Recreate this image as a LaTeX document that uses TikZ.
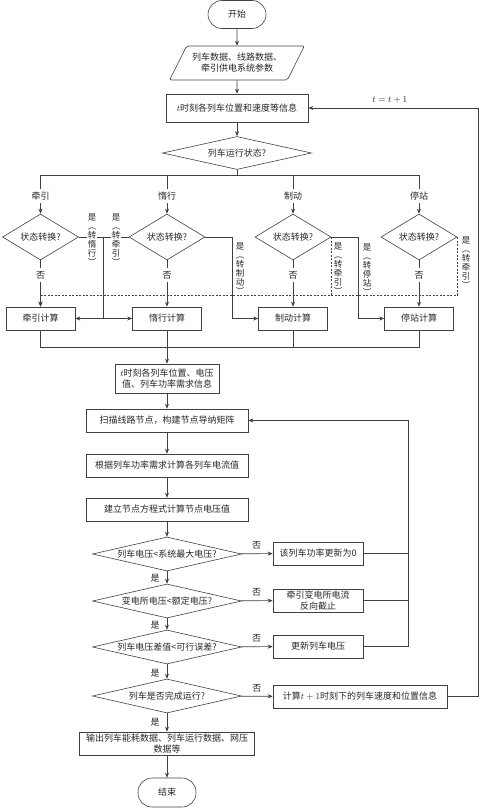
\documentclass[tikz,border=0pt]{standalone}
\usepackage{fontspec}
\newfontfamily\cjk{Noto Sans CJK SC}
\usetikzlibrary{shapes.geometric, arrows.meta, positioning, calc}

\begin{document}
\begin{tikzpicture}[x=1pt, y=-1pt]
\tikzset{
  base/.style={draw=black!75,line width=0.6pt,text=black!85,font=\cjk\fontsize{9}{11}\selectfont,align=center,inner sep=0pt},
  term/.style={base,rectangle,rounded corners=14pt,minimum width=58pt,minimum height=28pt},
  io/.style={base,trapezium,trapezium left angle=52,trapezium right angle=128,trapezium stretches=true,rounded corners=2pt,minimum width=135pt,minimum height=34pt},
  proc/.style={base,rectangle,minimum height=23pt},
  cond/.style={base,diamond,aspect=4.4,minimum width=149pt,minimum height=34pt},
  sw/.style={base,diamond,aspect=1.6,minimum width=76pt,minimum height=46pt},
  mode/.style={proc,minimum width=69pt},
  ar/.style={-{Stealth[length=5pt,width=4pt]},line width=0.6pt,draw=black!75},
  ln/.style={line width=0.6pt,draw=black!75},
  dots/.style={dash pattern=on 2pt off 1.5pt},
  lab/.style={font=\cjk\fontsize{9}{11}\selectfont,text=black!85,inner sep=1pt,fill=white},
  vlab/.style={font=\cjk\fontsize{8.5}{9}\selectfont,text=black!85,align=center,inner sep=0.5pt}
}
\useasboundingbox (0,0) rectangle (500,808);
% ---- start and input
\node[term] (start) at (237,14.5) {开始};
\node[io] (input) at (237,63) {列车数据、线路数据、\\牵引供电系统参数};
\node[proc,minimum width=142pt,minimum height=28pt] (info) at (237,108) {$t$时刻各列车位置和速度等信息};
\node[cond,minimum height=33pt] (state) at (237,153) {列车运行状态?};
% ---- four running states
\node[lab,inner sep=3pt] (lq) at (40.5,196) {牵引};
\node[lab,inner sep=3pt] (ld) at (167,196) {惰行};
\node[lab,inner sep=3pt] (lz) at (293,196) {制动};
\node[lab,inner sep=3pt] (lt) at (419,196) {停站};
\node[sw] (swq) at (40.5,237) {状态转换?};
\node[sw] (swd) at (167,237) {状态转换?};
\node[sw] (swz) at (293,237) {状态转换?};
\node[sw] (swt) at (419,237) {状态转换?};
\node[lab,inner sep=3pt] (nq) at (40.5,275) {否};
\node[lab,inner sep=3pt] (nd) at (167,275) {否};
\node[lab,inner sep=3pt] (nz) at (293,275) {否};
\node[lab,inner sep=3pt] (nt) at (419,275) {否};
\node[mode] (cq) at (40.5,318.5) {牵引计算};
\node[mode] (cd) at (167,318.5) {惰行计算};
\node[mode] (cz) at (293,318.5) {制动计算};
\node[mode] (ct) at (419,318.5) {停站计算};
% ---- network solution
\node[proc,minimum width=104pt,minimum height=29pt] (volt) at (167,378.5) {$t$时刻各列车位置、电压\\值、列车功率需求信息};
\node[proc,minimum width=162pt] (scan) at (167,420.5) {扫描线路节点，构建节点导纳矩阵};
\node[proc,minimum width=162pt] (curr) at (167,465.5) {根据列车功率需求计算各列车电流值};
\node[proc,minimum width=162pt] (nodev) at (167,509.5) {建立节点方程式计算节点电压值};
\node[cond] (chkmax) at (167,554) {列车电压<系统最大电压?};
\node[cond] (chkrate) at (167,601) {变电所电压<额定电压?};
\node[cond] (chkerr) at (167,647) {列车电压差值<可行误差?};
\node[cond] (done) at (167,696) {列车是否完成运行?};
\node[proc,minimum width=90pt] (zero) at (318,553.5) {该列车功率更新为0};
\node[proc,minimum width=90pt] (cut) at (318,600.5) {牵引变电所电流\\反向截止};
\node[proc,minimum width=90pt] (upd) at (318,646.5) {更新列车电压};
\node[proc,minimum width=174pt] (next) at (360,696.5) {计算$t+1$时刻下的列车速度和位置信息};
\node[proc,minimum width=175pt] (output) at (167,743.5) {输出列车能耗数据、列车运行数据、网压\\数据等};
\node[term,minimum height=29pt] (stop) at (167,792.5) {结束};
% ---- arrows, top part
\draw[ar] (start) -- (input);
\draw[ar] (input) -- (info);
\draw[ar] (info) -- (state);
\draw[ln] (state.south) -- ++(0,5) -| (lq.north);
\draw[ln] (state.south) -- ++(0,5) -| (ld.north);
\draw[ln] (state.south) -- ++(0,5) -| (lz.north);
\draw[ln] (state.south) -- ++(0,5) -| (lt.north);
\draw[ar] (lq) -- (swq); \draw[ar] (ld) -- (swd);
\draw[ar] (lz) -- (swz); \draw[ar] (lt) -- (swt);
\draw[ln] (swq) -- (nq); \draw[ar] (nq) -- (cq);
\draw[ln] (swd) -- (nd); \draw[ar] (nd) -- (cd);
\draw[ln] (swz) -- (nz); \draw[ar] (nz) -- (cz);
\draw[ln] (swt) -- (nt); \draw[ar] (nt) -- (ct);
% ---- state changes
\coordinate (qd) at ($(swq.east)!0.5!(swd.west)$);
\draw[ln] (swq.east) -- (swd.west);
\draw[ar] (qd) |- (cq.east);
\draw[ar] (qd) |- (cd.west);
\draw[ar] (swd.east) -- ++(27,0) |- (cz.west);
\draw[ar] (swz.east) -- ++(27,0) |- (ct.west);
\draw[ln,dots] (swz.east) -- ++(0,58);
\draw[ar,dots] (swt.east) -- ++(0,58) -| (cq.north);
\node[vlab,fill=white] (yqd) at (92,239.5) {是\\︵\\转\\惰\\行\\︶};
\node[vlab,fill=white] (ydq) at (116,239.5) {是\\︵\\转\\牵\\引\\︶};
\node[vlab] (ydz) at (240,268.5) {是\\︵\\转\\制\\动\\︶};
\node[vlab] (yzq) at (338,269) {是\\︵\\转\\牵\\引\\︶};
\node[vlab] (yzt) at (367,269.5) {是\\︵\\转\\停\\站\\︶};
\node[vlab] (ytq) at (466,263) {是\\︵\\转\\牵\\引\\︶};
% ---- merge
\coordinate (join) at (167,347);
\draw[ln] (cq.south) |- (join);
\draw[ln] (ct.south) |- (join);
\draw[ln] (cz.south) -- (cz.south |- join);
\draw[ar] (cd) -- (volt);
% ---- network loop
\draw[ar] (volt) -- (scan);
\draw[ar] (scan) -- (curr);
\draw[ar] (curr) -- (nodev);
\draw[ar] (nodev) -- (chkmax);
\draw[ar] (chkmax) -- node[lab,left=6pt,pos=0.6]{是} (chkrate);
\draw[ar] (chkrate) -- node[lab,left=6pt,pos=0.6]{是} (chkerr);
\draw[ar] (chkerr) -- node[lab,left=6pt,pos=0.6]{是} (done);
\draw[ar] (done) -- node[lab,left=6pt,pos=0.5]{是} (output);
\draw[ar] (output) -- (stop);
\draw[ar] (chkmax) -- node[lab,above=3pt]{否} (zero);
\draw[ar] (chkrate) -- node[lab,above=3pt]{否} (cut);
\draw[ar] (chkerr) -- node[lab,above=3pt]{否} (upd);
\draw[ar] (done) -- node[lab,above=3pt]{否} (next);
\draw[ln] (zero.east) -- ++(45,0);
\draw[ln] (cut.east) -- ++(45,0);
\draw[ar] (upd.east) -- ++(45,0) |- (scan.east);
\draw[ar] (next.east) -- ++(31,0) |- node[lab,pos=0.76,above=3pt]{$t=t+1$} (info.east);
\end{tikzpicture}
\end{document}
